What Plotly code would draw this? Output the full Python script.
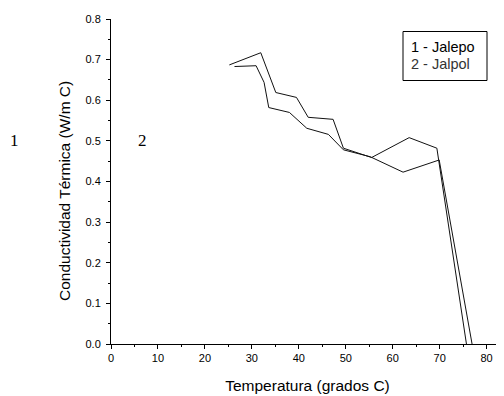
import plotly.graph_objects as go

# Data
temp_jalepo = [25.2, 31.9, 35.1, 39.5, 42.0, 47.3, 49.5, 55.5, 63.5, 69.4, 75.7]
cond_jalepo = [0.687, 0.717, 0.619, 0.607, 0.558, 0.553, 0.482, 0.459, 0.508, 0.482, 0.0]
temp_jalpol = [26.3, 30.9, 32.6, 33.6, 38.0, 41.7, 46.3, 49.5, 55.2, 62.2, 69.9, 76.9]
cond_jalpol = [0.683, 0.685, 0.644, 0.582, 0.570, 0.531, 0.516, 0.478, 0.461, 0.423, 0.453, 0.0]

x_ticks = [0, 10, 20, 30, 40, 50, 60, 70, 80]
y_ticks = [0.0, 0.1, 0.2, 0.3, 0.4, 0.5, 0.6, 0.7, 0.8]

# page body has an 8px margin, so the figure is offset by 8px
OFF = 8
W, H = 504, 396
L, R, T, B = 111 - OFF, 8, 19 - OFF, H - (344 - OFF)

SANS = "Liberation Sans, Arial"

fig = go.Figure()
fig.add_trace(go.Scatter(x=temp_jalepo, y=cond_jalepo, mode="lines",
                         line=dict(color="#111111", width=1), name="1 - Jalepo",
                         showlegend=False))
fig.add_trace(go.Scatter(x=temp_jalpol, y=cond_jalpol, mode="lines",
                         line=dict(color="#111111", width=1), name="2 - Jalpol",
                         showlegend=False))

axis_common = dict(showgrid=False, zeroline=False, showline=True, linecolor="black",
                   linewidth=1, ticks="outside", tickcolor="black", ticklen=4,
                   tickwidth=1, automargin=False,
                   tickfont=dict(family=SANS, size=11, color="black"))

fig.update_xaxes(range=[0, 83.7], tickvals=x_ticks, ticktext=[str(v) for v in x_ticks],
                 minor=dict(ticks="outside", ticklen=2, dtick=5, tickcolor="black"),
                 title=dict(text="Temperatura (grados C)", font=dict(family=SANS, size=15.5, color="black"), standoff=16),
                 **axis_common)
fig.update_yaxes(range=[0, 0.8], tickvals=y_ticks, ticktext=[f"{v:.1f}" for v in y_ticks],
                 minor=dict(ticks="outside", ticklen=2, dtick=0.05, tickcolor="black"),
                 ticklabelstandoff=3,
                 **axis_common)

pw = W - L - R
ph = H - T - B
def px(xp):
    return (xp - OFF - L) / pw
def py(yp):
    return (H - B - (yp - OFF)) / ph

# Y-axis title (placed as rotated text, as in the reference)
fig.add_annotation(xref="paper", yref="paper", x=px(65), y=py(191), xanchor="center", yanchor="middle",
                   text="Conductividad Térmica (W/m C)", textangle=-90, showarrow=False,
                   font=dict(family=SANS, size=15.5, color="black"))

# Legend box as text
fig.add_shape(type="rect", xref="paper", yref="paper",
              x0=px(403), x1=px(487), y0=py(80.5), y1=py(31.5),
              line=dict(color="black", width=1), fillcolor="white")
fig.add_annotation(xref="paper", yref="paper", x=px(409), y=py(47), xanchor="left", yanchor="middle",
                   text="1 - Jalepo", showarrow=False,
                   font=dict(family=SANS, size=14.5, color="black"))
fig.add_annotation(xref="paper", yref="paper", x=px(409), y=py(63.5), xanchor="left", yanchor="middle",
                   text="2 - Jalpol", showarrow=False,
                   font=dict(family=SANS, size=14.5, color="#333333"))

# Labels "1" and "2"
fig.add_annotation(xref="paper", yref="paper", x=px(14), y=py(140), xanchor="center", yanchor="middle",
                   text="1", showarrow=False,
                   font=dict(family="Liberation Serif, Times New Roman", size=17, color="black"))
fig.add_annotation(xref="paper", yref="paper", x=px(142), y=py(140), xanchor="center", yanchor="middle",
                   text="2", showarrow=False,
                   font=dict(family="Liberation Serif, Times New Roman", size=17, color="black"))

fig.update_layout(width=W, height=H, margin=dict(l=L, r=R, t=T, b=B, autoexpand=False),
                  plot_bgcolor="white", paper_bgcolor="white", showlegend=False)

fig.write_html("out.html")
